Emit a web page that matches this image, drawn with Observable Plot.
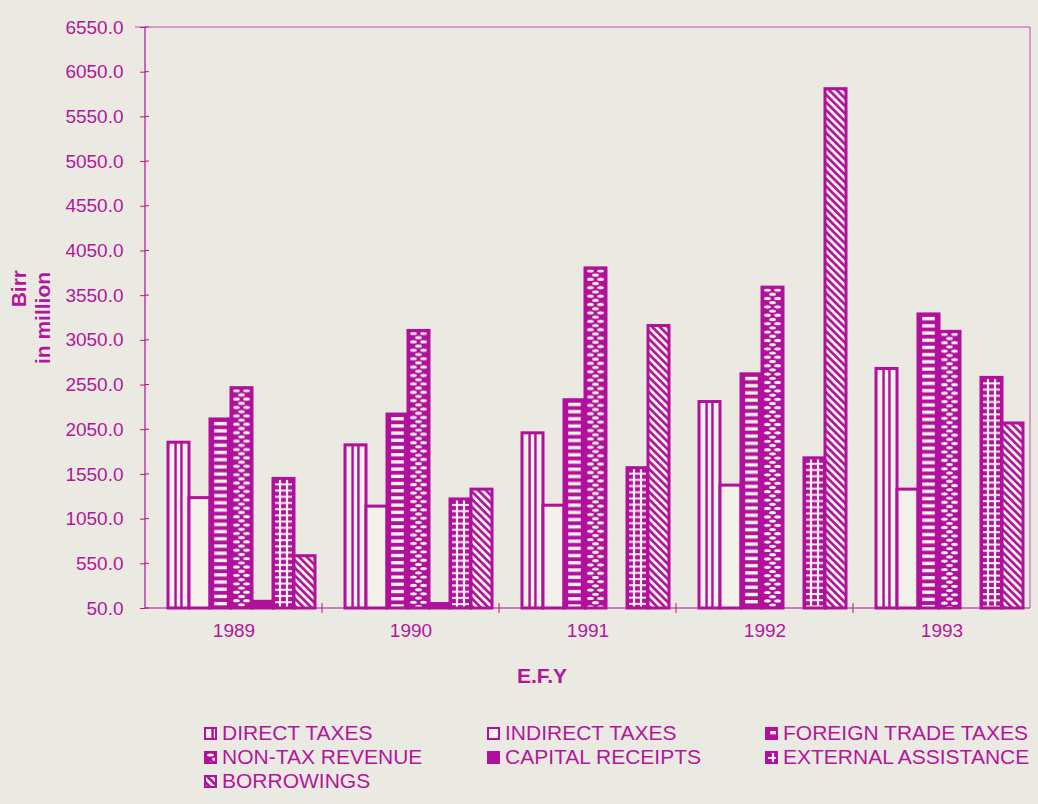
<!DOCTYPE html>
<html><head><meta charset="utf-8">
<script src="https://cdn.jsdelivr.net/npm/d3@7"></script>
<script src="https://cdn.jsdelivr.net/npm/@observablehq/plot@0.6"></script>
<style>
html,body{margin:0;padding:0;background:#ebeae2;}
#wrap{position:relative;width:1038px;height:804px;background:#ebeae2;overflow:hidden;font-family:"Liberation Sans",Arial,sans-serif;color:#b3169c;}
#chart{position:absolute;left:0;top:0;}
#legend{position:absolute;left:0;top:721px;width:1038px;height:84px;}
.item{position:absolute;display:flex;align-items:center;font-size:21px;line-height:24px;height:24px;white-space:nowrap;color:#b3169c;}
.item svg{margin-right:5px;flex:none;}
</style></head>
<body><div id="wrap">
<svg id="defsvg" width="0" height="0" style="position:absolute;left:0;top:0"><defs id="defs"></defs></svg>
<div id="chart"></div>
<div id="legend"></div>
</div>
<script>
// ---- data ----
const years = ["1989", "1990", "1991", "1992", "1993"];
const series = ["DIRECT TAXES", "INDIRECT TAXES", "FOREIGN TRADE TAXES", "NON-TAX REVENUE", "CAPITAL RECEIPTS", "EXTERNAL ASSISTANCE", "BORROWINGS"];
const directTaxes        = [1905, 1875, 2010, 2360, 2730];
const indirectTaxes      = [1285, 1190, 1200, 1425, 1380];
const foreignTradeTaxes  = [2165, 2220, 2380, 2670, 3340];
const nonTaxRevenue      = [2515, 3155, 3855, 3640, 3145];
const capitalReceipts    = [125, 100, null, null, null];
const externalAssistance = [1500, 1270, 1620, 1730, 2630];
const borrowings         = [635, 1380, 3210, 5860, 2120];
const yTicks = [50, 550, 1050, 1550, 2050, 2550, 3050, 3550, 4050, 4550, 5050, 5550, 6050, 6550];
const yMin = 50, yMax = 6550;

const M = "#b0109b", TXT = "#b3169c", BG = "#ebeae2", WH = "#f2f1ea";
const valuesBySeries = [directTaxes, indirectTaxes, foreignTradeTaxes, nonTaxRevenue, capitalReceipts, externalAssistance, borrowings];
const rows = [];
series.forEach((s, j) => years.forEach((yr, i) => {
  const v = valuesBySeries[j][i];
  if (v != null) rows.push({year: yr, series: s, value: v});
}));
const patIds = series.map((_, j) => "pat" + j);

const plot = Plot.plot({
  width: 1038, height: 700,
  marginLeft: 145, marginRight: 8, marginTop: 27, marginBottom: 92,
  facet: {data: rows, x: "year", marginLeft: 145, marginRight: 8, marginTop: 27, marginBottom: 92},
  fx: {domain: years, padding: 0, axis: "bottom", tickSize: 0, tickPadding: 15, label: null},
  x: {domain: series, paddingInner: 0, paddingOuter: 0.6, align: 0.75, axis: null},
  y: {domain: [yMin, yMax], ticks: yTicks, tickFormat: d => d.toFixed(1), tickSize: 5, tickPadding: 17, label: null},
  color: {domain: series, range: patIds.map(id => `url(#${id})`)},
  style: {background: "transparent", color: TXT, fontSize: "19px", fontFamily: "Liberation Sans, Arial, sans-serif", overflow: "visible"},
  marks: [
    Plot.barY(rows, {x: "series", y1: d => yMin, y2: "value", fill: "series", stroke: M, strokeWidth: 3})
  ]
});
document.getElementById("chart").appendChild(plot);

// geometry from plot scales
const ysc = plot.scale("y"), fxs = plot.scale("fx"), xs = plot.scale("x");
const yB = Math.max(...ysc.range), yT = Math.min(...ysc.range);
const xL = Math.min(...fxs.range), xR = Math.max(...fxs.range);
let W = xs.bandwidth;
if (!W) { const r = plot.querySelector("rect[width]"); W = r ? +r.getAttribute("width") : 21.6; }

// patterns
const defs = d3.select("#defs");
const H = 700;
function obbPattern(id) {
  return defs.append("pattern").attr("id", id).attr("patternUnits", "objectBoundingBox")
    .attr("x", 0).attr("y", 0).attr("width", 1).attr("height", 1);
}
// 0 direct taxes: vertical lines on light
{ const p = obbPattern("pat0");
  p.append("rect").attr("width", 60).attr("height", H).attr("fill", WH);
  [W * 0.36, W * 0.64].forEach(x => p.append("rect").attr("x", x - 1.2).attr("width", 2.4).attr("height", H).attr("fill", M)); }
// 1 indirect taxes: plain
{ const p = obbPattern("pat1"); p.append("rect").attr("width", 60).attr("height", H).attr("fill", WH); }
// 2 foreign trade taxes: white horizontal dashes on magenta
{ const p = obbPattern("pat2");
  p.append("rect").attr("width", 60).attr("height", H).attr("fill", M);
  for (let y = 3; y < H; y += 7.2) p.append("rect").attr("x", W * 0.2).attr("y", y).attr("width", W * 0.6).attr("height", 3.4).attr("fill", WH); }
// 3 non-tax revenue: white ovals staggered
{ const p = obbPattern("pat3");
  p.append("rect").attr("width", 60).attr("height", H).attr("fill", M);
  let k = 0;
  for (let y = 3; y < H; y += 4.2, k++) {
    const cxs = k % 2 ? [W * 0.5] : [W * 0.26, W * 0.74];
    cxs.forEach(cx => p.append("ellipse").attr("cx", cx).attr("cy", y).attr("rx", 3.4).attr("ry", 1.6).attr("fill", WH));
  } }
// 4 capital receipts: solid
{ const p = obbPattern("pat4"); p.append("rect").attr("width", 60).attr("height", H).attr("fill", M); }
// 5 external assistance: white grid on magenta
{ const p = obbPattern("pat5");
  p.append("rect").attr("width", 60).attr("height", H).attr("fill", M);
  [W / 3, 2 * W / 3].forEach(x => p.append("rect").attr("x", x - 1.1).attr("width", 2.2).attr("height", H).attr("fill", WH));
  for (let y = 5; y < H; y += 6.2) p.append("rect").attr("x", 2).attr("y", y).attr("width", W - 4).attr("height", 2).attr("fill", WH); }
// 6 borrowings: diagonal hatch
{ const p = defs.append("pattern").attr("id", "pat6").attr("patternUnits", "userSpaceOnUse")
    .attr("width", 5.4).attr("height", 5.4).attr("patternTransform", "rotate(-45)");
  p.append("rect").attr("width", 5.4).attr("height", 5.4).attr("fill", WH);
  p.append("rect").attr("x", 0).attr("width", 2.6).attr("height", 5.4).attr("fill", M); }

// frame, axis lines and group boundary ticks
const svg = d3.select(plot);
const g = svg.append("g").attr("fill", "none").attr("stroke", M);
g.append("line").attr("x1", xL - 10).attr("x2", xR).attr("y1", yT).attr("y2", yT).attr("stroke-width", 1).attr("stroke-opacity", 0.7);
g.append("line").attr("x1", xR).attr("x2", xR).attr("y1", yT).attr("y2", yB).attr("stroke-width", 1).attr("stroke-opacity", 0.7);
g.append("line").attr("x1", xL).attr("x2", xL).attr("y1", yT).attr("y2", yB).attr("stroke-width", 1.2);
g.append("line").attr("x1", xL).attr("x2", xR).attr("y1", yB).attr("y2", yB).attr("stroke-width", 1.2);
const step = (xR - xL) / years.length;
years.forEach((_, i) => { if (i > 0) g.append("line").attr("x1", xL + i * step).attr("x2", xL + i * step).attr("y1", yB - 5).attr("y2", yB + 5).attr("stroke-width", 1); });
yTicks.forEach(t => { const yy = (yB - yT) * (1 - (t - yMin) / (yMax - yMin)) + yT;
  g.append("line").attr("x1", xL).attr("x2", xL + 4).attr("y1", yy).attr("y2", yy).attr("stroke-width", 1); });

// axis titles
const tg = svg.append("g").attr("fill", TXT).attr("font-family", "Liberation Sans, Arial, sans-serif").attr("font-weight", "bold");
tg.append("text").attr("transform", "translate(19,270) rotate(-90)").attr("dy", "0.35em").attr("text-anchor", "end").attr("font-size", 21).text("Birr");
tg.append("text").attr("transform", "translate(43,318) rotate(-90)").attr("dy", "0.35em").attr("text-anchor", "middle").attr("font-size", 21).text("in million");
tg.append("text").attr("x", 542).attr("y", 676).attr("dy", "0.35em").attr("text-anchor", "middle").attr("font-size", 21).text("E.F.Y");

// legend
const legend = d3.select("#legend");
const colX = [204, 487, 765];
series.forEach((s, j) => {
  const row = Math.floor(j / 3), col = j % 3;
  const it = legend.append("div").attr("class", "item").style("left", colX[col] + "px").style("top", (row * 24) + "px");
  const sw = it.append("svg").attr("width", 13).attr("height", 13);
  sw.append("rect").attr("x", 1).attr("y", 1).attr("width", 11).attr("height", 11).attr("fill", `url(#${patIds[j]})`).attr("stroke", M).attr("stroke-width", 2);
  it.append("span").text(s);
});
</script>
</body></html>
